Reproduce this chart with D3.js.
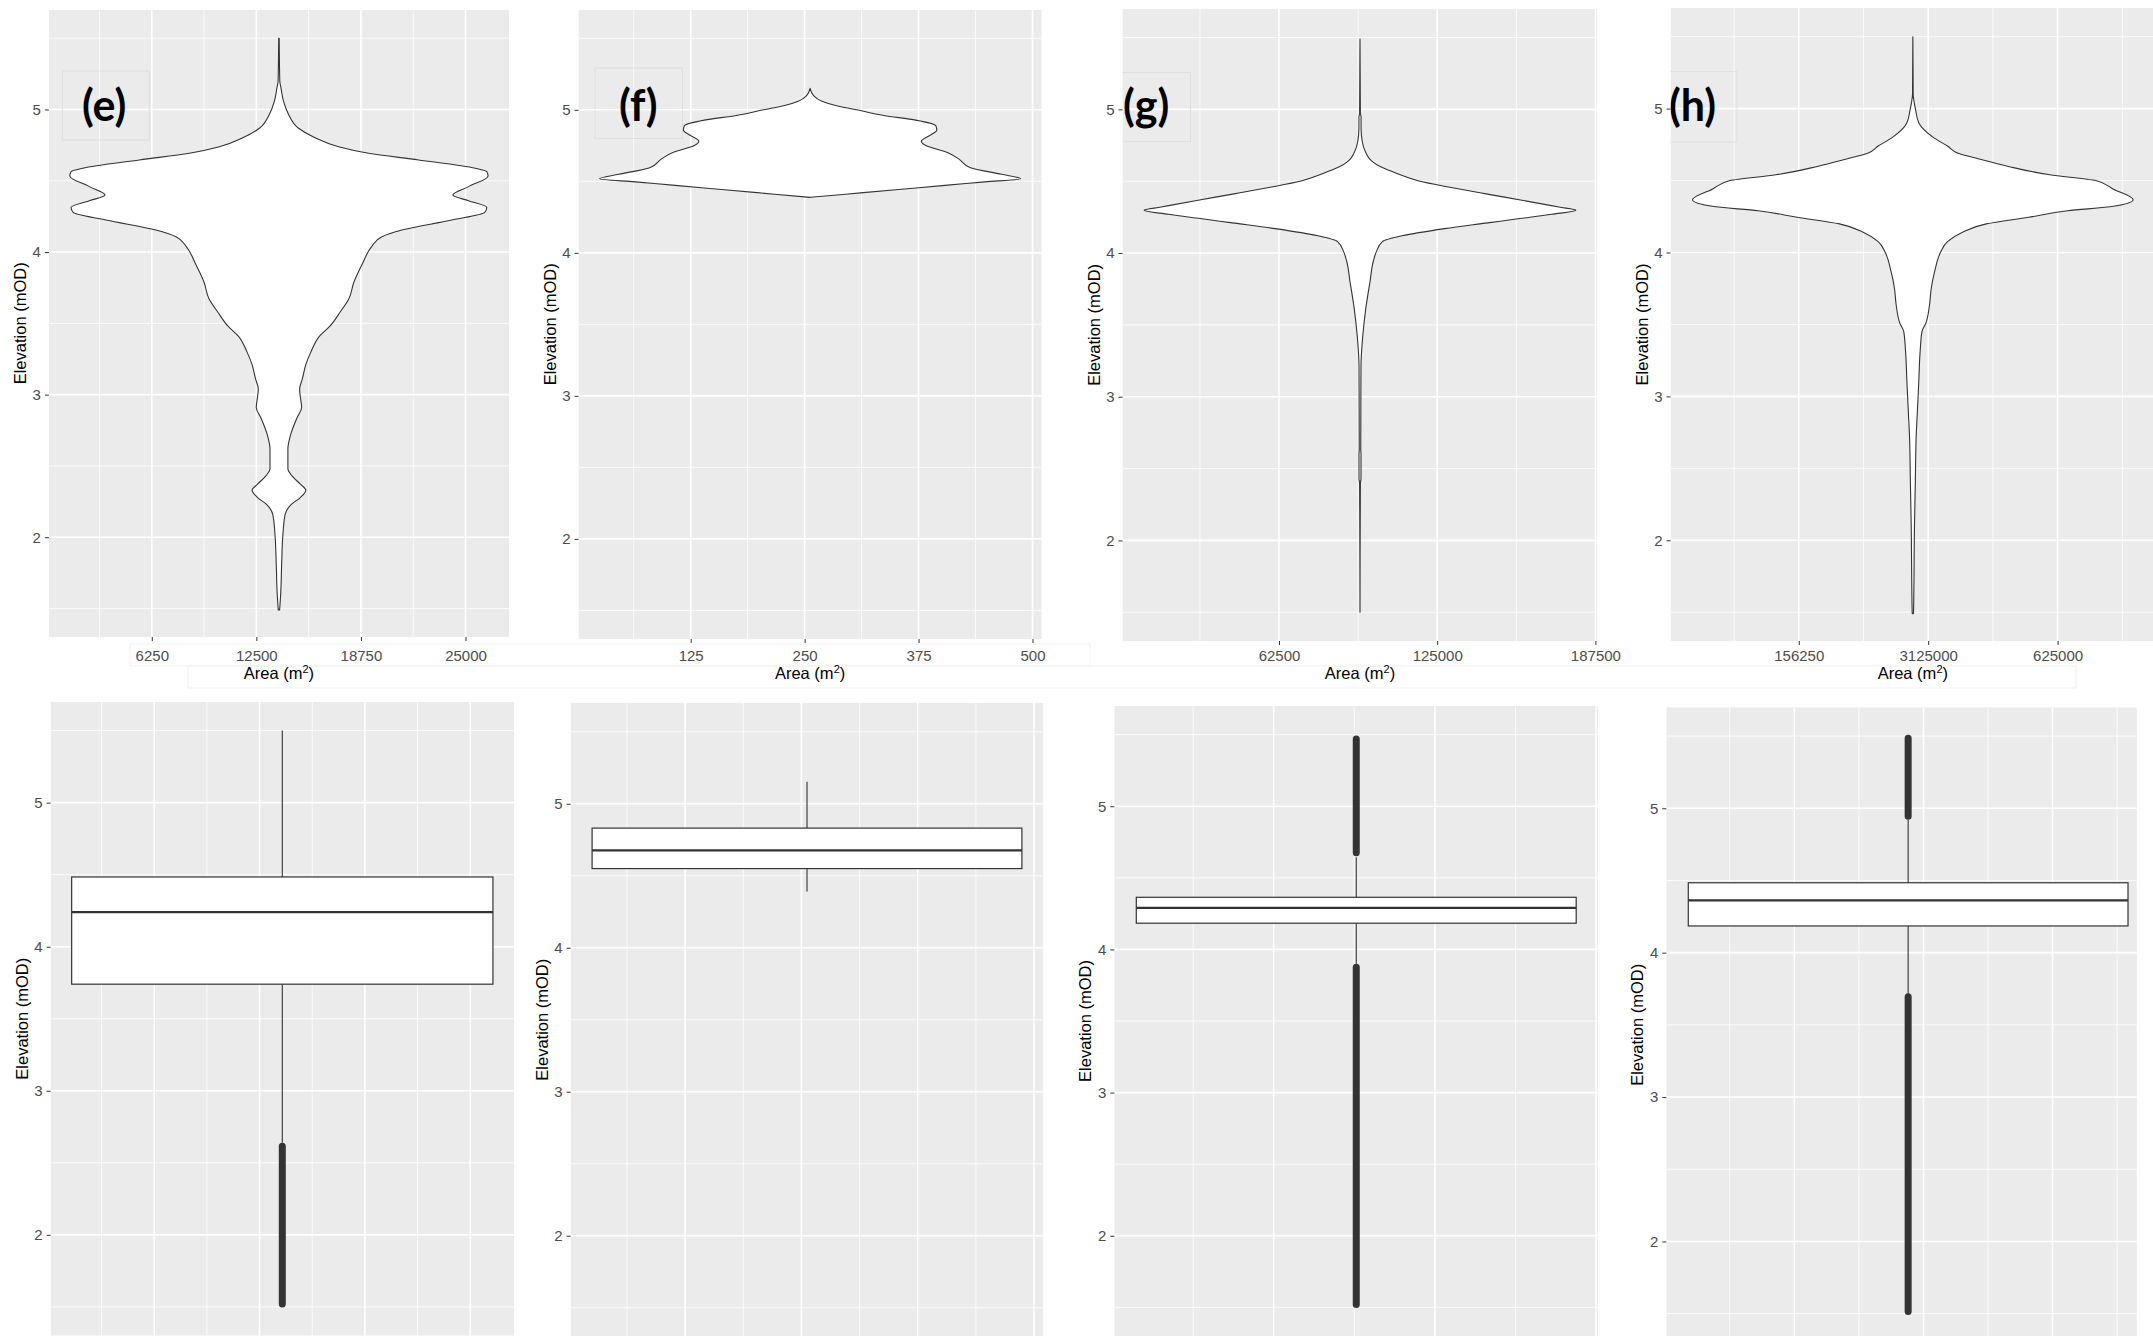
<!DOCTYPE html>
<html><head><meta charset="utf-8">
<script src="https://cdn.jsdelivr.net/npm/d3@7"></script>
<style>body{margin:0;background:#fff}svg{display:block}</style>
</head><body>
<svg id="c" width="2153" height="1336"></svg>
<script>
// ---------------- data ----------------
const panelLabels = ["(e)", "(f)", "(g)", "(h)"];
const elevDomain = [1.3, 5.7];
const elevTicks = [2, 3, 4, 5];
const elevMinor = [1.5, 2.5, 3.5, 4.5, 5.5];
const areaTicksE = [6250, 12500, 18750, 25000];
const areaTicksF = [125, 250, 375, 500];
const areaTicksG = [62500, 125000, 187500];
const areaTicksH = [156250, 312500, 468750];
const areaTickLabelsE = ["6250", "12500", "18750", "25000"];
const areaTickLabelsF = ["125", "250", "375", "500"];
const areaTickLabelsG = ["62500", "125000", "187500"];
const areaTickLabelsH = ["156250", "3125000", "625000"];
const centers = [13850, 256, 94500, 294000];
const maxHalfWidth = [12500, 231, 85300, 266000];

// violin profiles: [elevation, half-width in m²]
const violinE = [[1.49,40],[1.60,103],[1.82,164],[2.00,226],[2.16,370],[2.23,740],[2.28,1295],[2.33,1604],[2.37,1295],[2.43,781],[2.48,535],[2.62,535],[2.71,678],[2.84,1090],[2.91,1357],[2.97,1295],[3.04,1234],[3.11,1398],[3.21,1604],[3.30,1912],[3.41,2426],[3.48,3043],[3.58,3660],[3.67,4174],[3.79,4482],[3.92,4996],[4.04,5550],[4.108,6150],[4.155,7346],[4.225,10334],[4.279,12300],[4.314,12426],[4.36,11332],[4.40,10394],[4.459,11332],[4.534,12500],[4.564,12426],[4.588,11733],[4.646,8344],[4.693,5355],[4.739,3562],[4.805,2100],[4.87,1150],[4.965,576],[5.06,267],[5.15,123],[5.20,50],[5.50,15]];
const violinF = [[4.388,0],[4.410,39],[4.441,94],[4.472,148],[4.496,192],[4.518,231],[4.549,210],[4.595,176],[4.657,163],[4.703,150],[4.75,127],[4.78,122],[4.827,133],[4.857,139],[4.888,138],[4.928,116],[4.96,81],[5.00,51],[5.03,28],[5.06,13],[5.10,3.8],[5.15,0]];
const violinG = [[1.50,0],[2.40,150],[2.43,400],[2.60,400],[2.63,300],[3.22,400],[3.37,845],[3.43,1130],[3.61,2250],[3.80,3940],[3.95,5350],[4.01,6480],[4.08,8870],[4.12,16600],[4.17,33500],[4.21,50400],[4.24,63100],[4.27,75700],[4.298,85300],[4.32,78600],[4.366,64500],[4.41,50400],[4.46,34900],[4.50,23650],[4.55,15200],[4.60,8170],[4.64,4650],[4.70,2250],[4.78,845],[4.87,420],[4.95,420],[4.97,150],[5.49,0]];
const violinH = [[1.49,600],[1.50,800],[2.11,2000],[2.41,3000],[2.72,4000],[2.90,5500],[3.08,7000],[3.33,9000],[3.45,11000],[3.51,15800],[3.63,20000],[3.75,22200],[3.87,26400],[4.00,33300],[4.076,41800],[4.138,58800],[4.199,88700],[4.245,139800],[4.29,186700],[4.321,242100],[4.367,266000],[4.44,242100],[4.50,220800],[4.54,165400],[4.60,114200],[4.65,80100],[4.69,54600],[4.74,41800],[4.80,24700],[4.90,7250],[4.99,3400],[5.04,1700],[5.10,400],[5.50,0]];

// boxplots: [lower whisker, Q1, median, Q3, upper whisker]
const boxE = [2.64, 3.74, 4.24, 4.484, 5.50];
const boxF = [4.39, 4.55, 4.677, 4.831, 5.153];
const boxG = [3.90, 4.183, 4.29, 4.364, 4.644];
const boxH = [3.70, 4.185, 4.362, 4.484, 4.919];
// outlier runs (dense points) [from, to]
const outliersE = [[1.52, 2.615]];
const outliersF = [];
const outliersG = [[1.52, 3.875], [4.675, 5.47]];
const outliersH = [[1.515, 3.695], [4.945, 5.485]];

// ---------------- layout ----------------
const W = 2153, H = 1336;
const topLayout = [
  {x0: 48.9,  x1: 509,    yb: 637, yt: 9.7},
  {x0: 578.5, x1: 1041.7, yb: 639, yt: 9.7},
  {x0: 1122.5,x1: 1597.5, yb: 641, yt: 8.8},
  {x0: 1670.5,x1: 2155.2, yb: 641, yt: 7.9}
];
const bottomLayout = [
  {x0: 50.6,  x1: 514,    yb: 1335.7, yt: 701.8},
  {x0: 570.6, x1: 1043.4, yb: 1336.5, yt: 703},
  {x0: 1114.3,x1: 1598.2, yb: 1336,   yt: 706},
  {x0: 1666.3,x1: 2150,   yb: 1342.5, yt: 707.2, clipR: 2136.9}
];
const labelBoxes = [[62.3,71,87,69],[595,68,87.5,70.6],[1103.6,72.6,86.8,69.1],[1651,71.7,86,70.3]];
const labelTextX = [82, 619, 1123, 1669];

const areaTicks = [areaTicksE, areaTicksF, areaTicksG, areaTicksH];
const areaLabels = [areaTickLabelsE, areaTickLabelsF, areaTickLabelsG, areaTickLabelsH];
const violins = [violinE, violinF, violinG, violinH];
const boxes = [boxE, boxF, boxG, boxH];
const outliers = [outliersE, outliersF, outliersG, outliersH];

const BG = "#EBEBEB", INK = "#333333", TICKTXT = "#4D4D4D";
const FONT = "'Liberation Sans', Arial, sans-serif";

const svg = d3.select("#c");
const defs = svg.append("defs");

function xDomainFor(i) {
  return [centers[i] - 1.1 * maxHalfWidth[i], centers[i] + 1.1 * maxHalfWidth[i]];
}

function minorTicks(ticks, dom) {
  const step = ticks[1] - ticks[0];
  const out = [ticks[0] - step / 2];
  ticks.forEach(t => out.push(t + step / 2));
  return out.filter(v => v > dom[0] && v < dom[1]);
}

function drawPanel(i, L, isTop) {
  const dom = xDomainFor(i);
  const x = d3.scaleLinear().domain(dom).range([L.x0, L.x1]);
  const y = d3.scaleLinear().domain(elevDomain).range([L.yb, L.yt]);
  const visR = Math.min(L.x1, L.clipR || W, W);
  const visB = Math.min(L.yb, H);
  const id = "clip" + (isTop ? "t" : "b") + i;
  defs.append("clipPath").attr("id", id).append("rect")
    .attr("x", L.x0).attr("y", L.yt).attr("width", visR - L.x0).attr("height", visB - L.yt);

  const g = svg.append("g");
  const p = g.append("g").attr("clip-path", `url(#${id})`);
  p.append("rect").attr("x", L.x0).attr("y", L.yt).attr("width", visR - L.x0).attr("height", visB - L.yt).attr("fill", BG);

  // gridlines
  const xMin = minorTicks(areaTicks[i], dom);
  p.selectAll(".gxm").data(xMin).join("line")
    .attr("x1", d => x(d)).attr("x2", d => x(d)).attr("y1", L.yt).attr("y2", visB)
    .attr("stroke", "#fff").attr("stroke-width", 0.8);
  p.selectAll(".gym").data(elevMinor).join("line")
    .attr("x1", L.x0).attr("x2", visR).attr("y1", d => y(d)).attr("y2", d => y(d))
    .attr("stroke", "#fff").attr("stroke-width", 0.8);
  p.selectAll(".gxM").data(areaTicks[i]).join("line")
    .attr("x1", d => x(d)).attr("x2", d => x(d)).attr("y1", L.yt).attr("y2", visB)
    .attr("stroke", "#fff").attr("stroke-width", 1.6);
  p.selectAll(".gyM").data(elevTicks).join("line")
    .attr("x1", L.x0).attr("x2", visR).attr("y1", d => y(d)).attr("y2", d => y(d))
    .attr("stroke", "#fff").attr("stroke-width", 1.6);

  const c = centers[i];
  if (isTop) {
    // label box
    const b = labelBoxes[i];
    p.append("rect").attr("x", b[0]).attr("y", b[1]).attr("width", b[2]).attr("height", b[3])
      .attr("fill", "none").attr("stroke", "#dcdcdc").attr("stroke-width", 0.8);
    // violin
    const area = d3.area()
      .y(d => y(d[0]))
      .x0(d => x(c - d[1]))
      .x1(d => x(c + d[1]))
      .curve(d3.curveMonotoneY);
    p.append("path").datum(violins[i]).attr("d", area)
      .attr("fill", "#fff").attr("stroke", INK).attr("stroke-width", 1.1).attr("stroke-linejoin", "round");
    p.append("text").attr("x", labelTextX[i]).attr("y", 121)
      .attr("font-family", "Lato, 'Open Sans', sans-serif").attr("font-weight", 700)
      .attr("font-size", 43).attr("fill", "#000").text(panelLabels[i]);
  } else {
    const bx = boxes[i];
    const hw = maxHalfWidth[i];
    // whiskers
    p.append("line").attr("x1", x(c)).attr("x2", x(c)).attr("y1", y(bx[3])).attr("y2", y(bx[4]))
      .attr("stroke", INK).attr("stroke-width", 1.1);
    p.append("line").attr("x1", x(c)).attr("x2", x(c)).attr("y1", y(bx[1])).attr("y2", y(bx[0]))
      .attr("stroke", INK).attr("stroke-width", 1.1);
    // outliers (dense points)
    p.selectAll(".out").data(outliers[i]).join("line")
      .attr("x1", x(c)).attr("x2", x(c)).attr("y1", d => y(d[0])).attr("y2", d => y(d[1]))
      .attr("stroke", INK).attr("stroke-width", 7).attr("stroke-linecap", "round");
    // box
    p.append("rect").attr("x", x(c - hw)).attr("width", x(c + hw) - x(c - hw))
      .attr("y", y(bx[3])).attr("height", y(bx[1]) - y(bx[3]))
      .attr("fill", "#fff").attr("stroke", INK).attr("stroke-width", 1.2);
    p.append("line").attr("x1", x(c - hw)).attr("x2", x(c + hw)).attr("y1", y(bx[2])).attr("y2", y(bx[2]))
      .attr("stroke", INK).attr("stroke-width", 2.3);
  }

  // y axis
  const ya = g.append("g").attr("transform", `translate(${L.x0},0)`)
    .call(d3.axisLeft(y).tickValues(elevTicks).tickSize(4).tickPadding(4).tickFormat(d3.format("d")));
  ya.select(".domain").remove();
  ya.selectAll(".tick line").attr("stroke", INK).attr("stroke-width", 1);
  ya.selectAll(".tick text").attr("fill", TICKTXT).attr("font-size", 15).attr("font-family", FONT);
  ya.selectAll(".tick").filter(d => y(d) > H).remove();

  // y title
  const ty = (L.yt + L.yb) / 2;
  g.append("text").attr("transform", `translate(${L.x0 - 23},${ty}) rotate(-90)`)
    .attr("text-anchor", "middle").attr("font-family", FONT).attr("font-size", 16.5).attr("fill", "#000")
    .text("Elevation (mOD)");

  if (isTop) {
    const xa = g.append("g").attr("transform", `translate(0,${L.yb})`)
      .call(d3.axisBottom(x).tickValues(areaTicks[i]).tickSize(4)
        .tickPadding(661 - L.yb - 4 - 10.65)
        .tickFormat((d, k) => areaLabels[i][k]));
    xa.select(".domain").remove();
    xa.selectAll(".tick line").attr("stroke", INK).attr("stroke-width", 1);
    xa.selectAll(".tick text").attr("fill", TICKTXT).attr("font-size", 15).attr("font-family", FONT);
    const t = g.append("text").attr("x", (L.x0 + L.x1) / 2).attr("y", 679)
      .attr("text-anchor", "middle").attr("font-family", FONT).attr("font-size", 16.5).attr("fill", "#000");
    t.append("tspan").text("Area (m");
    t.append("tspan").attr("font-size", 11).attr("dy", -6).text("2");
    t.append("tspan").attr("dy", 6).text(")");
  }
}

// faint strips from the composite layout
svg.append("rect").attr("x", 188).attr("y", 666).attr("width", 1888).attr("height", 22)
  .attr("fill", "none").attr("stroke", "#f0f0f0").attr("stroke-width", 1);
svg.append("rect").attr("x", 130).attr("y", 644).attr("width", 960).attr("height", 22)
  .attr("fill", "none").attr("stroke", "#f3f3f3").attr("stroke-width", 1);

topLayout.forEach((L, i) => drawPanel(i, L, true));
bottomLayout.forEach((L, i) => drawPanel(i, L, false));
</script>
</body></html>
